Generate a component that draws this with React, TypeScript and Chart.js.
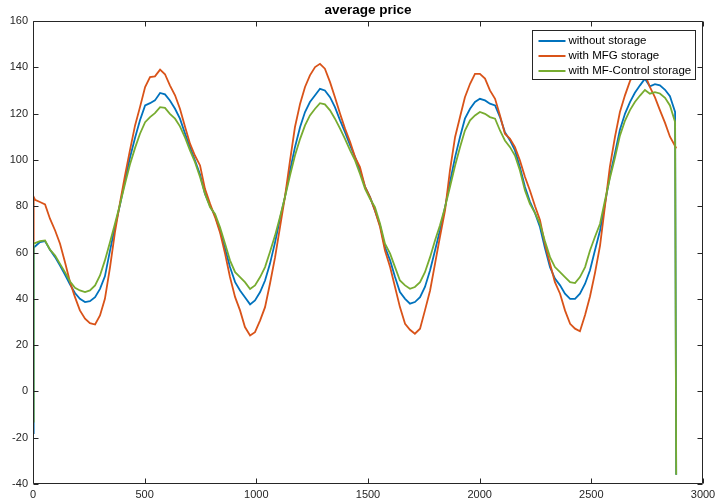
import React, { useEffect, useRef } from "react";
import { Chart, registerables } from "chart.js";

Chart.register(...registerables);

const chartTitle = "average price";
const seriesLabels = ["without storage", "with MFG storage", "with MF-Control storage"];
const seriesColors = ["#0072BD", "#D95319", "#77AC30"];
const xTicks = [0, 500, 1000, 1500, 2000, 2500, 3000];
const yTicks = [-40, -20, 0, 20, 40, 60, 80, 100, 120, 140, 160];

const xValues = [0, 3, 9, 31, 54, 76, 99, 121, 143, 166, 188, 210, 233, 255, 278, 300, 322, 345, 367, 390, 412, 434, 457, 479, 502, 524, 546, 569, 591, 613, 636, 658, 681, 703, 725, 748, 770, 793, 815, 837, 860, 882, 905, 927, 949, 972, 994, 1017, 1039, 1061, 1084, 1106, 1128, 1151, 1173, 1196, 1218, 1240, 1263, 1285, 1307, 1330, 1352, 1375, 1397, 1420, 1442, 1464, 1487, 1509, 1531, 1554, 1576, 1599, 1621, 1643, 1666, 1688, 1710, 1733, 1755, 1778, 1800, 1822, 1845, 1867, 1890, 1912, 1934, 1957, 1979, 2001, 2024, 2046, 2069, 2091, 2113, 2136, 2158, 2180, 2203, 2225, 2248, 2270, 2292, 2315, 2337, 2360, 2382, 2405, 2427, 2449, 2472, 2494, 2516, 2539, 2561, 2583, 2606, 2628, 2651, 2673, 2695, 2718, 2740, 2762, 2785, 2807, 2830, 2852, 2875, 2880];

const withoutStorage = [-18, 62,
  62.6, 64.5, 64.9, 61.2, 58, 54.4, 50.5, 46.1, 42.5, 40, 38.6, 39, 40.7, 44.3, 49.7, 60.9, 71, 80.8, 91.1, 100.9, 109.6, 117.1, 123.5, 124.5, 125.7, 128.9, 128.3, 125.7, 122.1, 117.8, 111.3, 105.5, 99.8, 93.7, 85.4, 80,
  76, 69.5, 61.6, 53.7, 47.2, 43.6, 40.7, 37.6, 39.3, 42.9, 47.9, 55.1, 64.5, 74.6, 83.9, 95.5, 105.5, 114.2, 120.7, 125, 127.9, 130.7, 130, 127.1, 122.8, 117.1, 112, 106.3, 101.2, 95.5, 88.3, 83.9,
  78.2, 71.7, 62.3, 56.6, 49.4, 42.9, 40, 37.9, 38.6, 40.7, 45.1, 52.3, 60.9, 69.5, 79.6, 90.4, 101.2, 109.9, 117.8, 122.1, 125, 126.4, 125.7, 124.3, 123.5, 118.5, 112, 108.4, 104.1, 96.9, 88.3, 82, 77, 71,
  62, 53.7, 48.7, 45.8, 42.2, 40, 40, 42.2, 46.5, 52.3, 60.9, 69.5, 81.1, 93, 103, 113, 120, 125, 129, 132.2, 135.1, 131.8, 132.7, 132.2, 130.3, 127.5, 120.7,
  -36];

const withMFG = [65, 84,
  82.8, 81.8, 80.8, 74.6, 69.5, 63.8, 55.9, 47.2, 40.7, 35, 31.4, 29.5, 28.9, 32.8, 40, 53.7, 68.8, 81.8, 93.3, 104.1, 114.9, 122.8, 131.5, 135.8, 136.1, 139, 137, 132.2, 127.9, 122.1, 114.2, 107, 101.9, 97.6, 87.5, 81,
  75.3, 68.8, 59.5, 49.4, 40.7, 35, 27.8, 24.2, 25.6, 30.7, 36.4, 46.5, 58, 71, 83.9, 99.8, 114.2, 124.3, 131.5, 136.5, 140.1, 141.5, 139.4, 133.6, 127.1, 119.9, 113.5, 107.7, 101.2, 96.9, 88.3, 83.9,
  78.2, 71, 60.9, 53.7, 45.1, 36.4, 29.2, 26.6, 24.9, 27.1, 35, 43.6, 55.1, 66.7, 78.2, 95.5, 109.9, 118.5, 127.1, 132.9, 137.2, 137.2, 135.1, 130, 126.4, 119.2, 111.3, 109.1, 105.5, 99.8, 92.6, 86.8, 80, 74,
  63.8, 55.1, 47.2, 42.2, 35, 29.2, 27.1, 26, 33, 41, 51, 63, 80, 97, 110, 120.7, 128, 134, 138, 140, 137, 131.5, 127, 121.5, 116, 110, 106,
  105];

const withMFControl = [-13, 64,
  64.1, 64.9, 65.2, 61.2, 58.7, 55.1, 51.5, 47.5, 44.8, 43.6, 42.9, 43.6, 45.8, 50.1, 56.6, 64.5, 72.4, 81, 89.7, 98, 105.2, 111.3, 116.3, 118.5, 120.2, 122.8, 122.5, 119.9, 117.8, 114.5, 109.6, 104.1, 99.1, 92.6, 85.4, 79.5,
  76.7, 71, 63.8, 56.6, 51.5, 49.4, 47.2, 44.2, 45.8, 49.4, 53.7, 60.2, 67.4, 75.3, 83.9, 93.3, 101.9, 109.1, 114.9, 119.2, 122.1, 124.5, 124, 121.4, 117.8, 113.5, 109.1, 104.1, 99.8, 94, 87.5, 83.2,
  79.6, 72.4, 63.8, 59.5, 53.7, 47.9, 45.8, 44.3, 45.1, 47.2, 51.5, 58, 65.2, 71.7, 79.6, 88.3, 97.6, 105.5, 112.7, 117.1, 119.2, 120.7, 119.9, 118.5, 117.8, 112.7, 108.4, 105.5, 101.9, 95.5, 86.8, 81, 77, 72.4,
  65, 58, 53.7, 51.5, 49.4, 47.2, 46.8, 49.4, 53.7, 60.9, 66.7, 72.4, 82.5, 92, 101, 110.5, 117, 121.5, 125, 127.8, 130.2, 128.6, 129.3, 128.7, 126.8, 123.5, 116.4,
  -36];

const FONT = "'Liberation Sans', Arial, Helvetica, sans-serif";
const AXIS_COLOR = "#262626";

const matlabPlugin = {
  id: "matlabDecor",
  afterDatasetsDraw(chart: any) {
    const { ctx, chartArea: a, scales } = chart;
    const xs = scales.x;
    const ys = scales.y;
    ctx.save();
    ctx.strokeStyle = AXIS_COLOR;
    ctx.lineWidth = 1;
    const L = Math.round(a.left) + 0.5;
    const R = Math.round(a.right) - 0.5;
    const T = Math.round(a.top) + 0.5;
    const B = Math.round(a.bottom) - 0.5;
    ctx.beginPath();
    ctx.rect(L, T, R - L, B - T);
    ctx.stroke();
    const tl = 5;
    ctx.beginPath();
    xs.ticks.forEach((t: any) => {
      const px = Math.round(xs.getPixelForValue(t.value)) + 0.5;
      ctx.moveTo(px, B);
      ctx.lineTo(px, B - tl);
      ctx.moveTo(px, T);
      ctx.lineTo(px, T + tl);
    });
    ys.ticks.forEach((t: any) => {
      const py = Math.round(ys.getPixelForValue(t.value)) + 0.5;
      ctx.moveTo(L, py);
      ctx.lineTo(L + tl, py);
      ctx.moveTo(R, py);
      ctx.lineTo(R - tl, py);
    });
    ctx.stroke();

    ctx.fillStyle = "#000";
    ctx.font = `bold 13.5px ${FONT}`;
    ctx.textAlign = "center";
    ctx.textBaseline = "middle";
    ctx.fillText(chartTitle, (a.left + a.right) / 2, 10);

    ctx.font = `11.5px ${FONT}`;
    let tw = 0;
    seriesLabels.forEach((s) => {
      tw = Math.max(tw, ctx.measureText(s).width);
    });
    const boxW = Math.round(36 + tw + 4);
    const boxH = 49;
    const bx = Math.round(a.right - 8.5 - boxW) + 0.5;
    const by = Math.round(a.top + 8.5) + 0.5;
    ctx.fillStyle = "#fff";
    ctx.fillRect(bx, by, boxW, boxH);
    ctx.strokeStyle = AXIS_COLOR;
    ctx.lineWidth = 1;
    ctx.strokeRect(bx, by, boxW, boxH);
    ctx.textAlign = "left";
    ctx.textBaseline = "middle";
    seriesLabels.forEach((s, i) => {
      const cy = by + 10.5 + i * 15;
      ctx.strokeStyle = seriesColors[i];
      ctx.lineWidth = 2;
      ctx.beginPath();
      ctx.moveTo(bx + 6, cy);
      ctx.lineTo(bx + 33, cy);
      ctx.stroke();
      ctx.fillStyle = "#000";
      ctx.fillText(s, bx + 36, cy);
    });
    ctx.restore();
  },
};

export default function App() {
  const ref = useRef<HTMLCanvasElement | null>(null);

  useEffect(() => {
    document.body.style.margin = "0";
    if (!ref.current) return;
    const series = [withoutStorage, withMFG, withMFControl];
    const chart = new Chart(ref.current, {
      type: "line",
      data: {
        datasets: series.map((vals, i) => ({
          label: seriesLabels[i],
          data: vals.map((v, k) => ({ x: xValues[k], y: v })),
          borderColor: seriesColors[i],
          backgroundColor: seriesColors[i],
          borderWidth: 1.8,
          pointRadius: 0,
          tension: 0,
          fill: false,
          order: 3 - i,
        })),
      },
      options: {
        animation: false,
        responsive: false,
        devicePixelRatio: 1,
        layout: { padding: { left: 0, right: 20, top: 21, bottom: 0 } },
        plugins: {
          legend: { display: false },
          title: { display: false },
          tooltip: { enabled: false },
        },
        scales: {
          x: {
            type: "linear",
            min: xTicks[0],
            max: xTicks[xTicks.length - 1],
            afterBuildTicks: (s: any) => {
              s.ticks = xTicks.map((v) => ({ value: v }));
            },
            afterFit: (s: any) => {
              s.height = 20;
            },
            grid: { display: false, drawTicks: false },
            border: { display: false },
            ticks: {
              autoSkip: false,
              maxRotation: 0,
              padding: 4,
              color: AXIS_COLOR,
              font: { family: FONT, size: 11 },
              callback: (v: any) => String(v),
            },
          },
          y: {
            type: "linear",
            min: yTicks[0],
            max: yTicks[yTicks.length - 1],
            afterBuildTicks: (s: any) => {
              s.ticks = yTicks.map((v) => ({ value: v }));
            },
            afterFit: (s: any) => {
              s.width = 33;
            },
            grid: { display: false, drawTicks: false },
            border: { display: false },
            ticks: {
              autoSkip: false,
              padding: 5,
              color: AXIS_COLOR,
              font: { family: FONT, size: 11 },
              callback: (v: any) => String(v),
            },
          },
        },
      },
      plugins: [matlabPlugin],
    });
    return () => chart.destroy();
  }, []);

  return (
    <div style={{ width: 723, height: 504, background: "#fff" }}>
      <canvas ref={ref} width={723} height={504} style={{ display: "block" }} />
    </div>
  );
}
